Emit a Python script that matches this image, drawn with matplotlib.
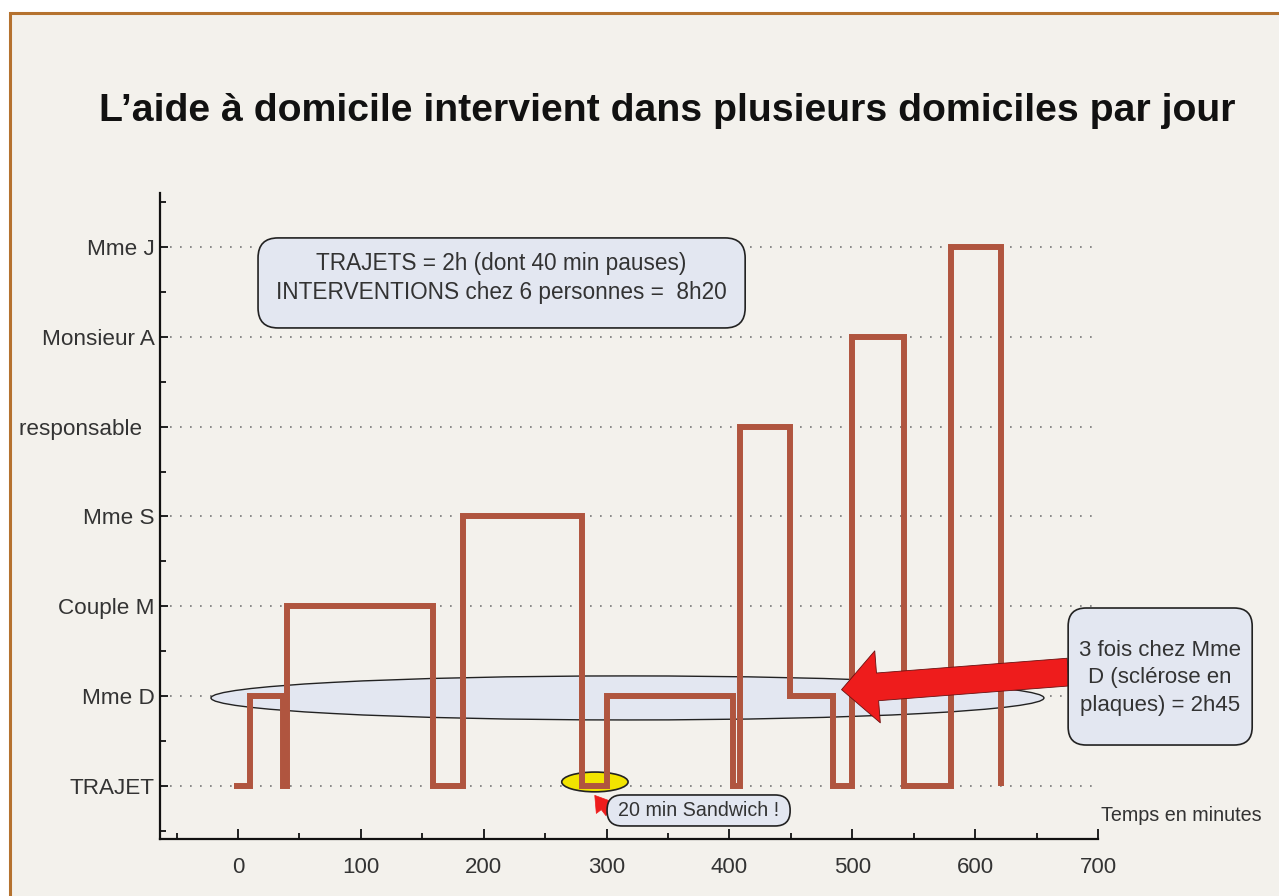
import matplotlib
matplotlib.use('Agg')
import matplotlib.pyplot as plt
from matplotlib.patches import Ellipse, Rectangle, FancyArrowPatch, FancyBboxPatch

plt.rcParams['font.family'] = ['Liberation Sans', 'DejaVu Sans']

################### data #######################
CATEGORIES = ['TRAJET', 'Mme D', 'Couple M', 'Mme S', 'responsable  ', 'Monsieur A', 'Mme J']

# start time of each segment (minutes) and place visited (index in CATEGORIES)
TIMES = [-3, 10, 37, 40, 159, 183, 280, 300, 403, 409, 449, 484, 500, 542, 580, 621]
LEVELS = [0, 1, 0, 2, 0, 3, 0, 1, 0, 4, 1, 0, 5, 0, 6, 0]

X_TICKS = [0, 100, 200, 300, 400, 500, 600, 700]

TITLE = 'L\u2019aide à domicile intervient dans plusieurs domiciles par jour'
BOX_TOP = 'TRAJETS = 2h (dont 40 min pauses)\nINTERVENTIONS chez 6 personnes =  8h20'
BOX_RIGHT = '3 fois chez Mme\nD (sclérose en\nplaques) = 2h45'
BOX_SANDWICH = '20 min Sandwich !'
X_LABEL = 'Temps en minutes'
################################################

BG = '#f3f1ec'
LINE_COL = '#b0553f'
BOX_COL = '#e3e7f1'
TXT = '#333333'

XLIM = (-63.5, 700)
YLIM = (-0.59, 6.6)

fig = plt.figure(figsize=(12.79, 8.96), dpi=100, facecolor='white')

# beige panel with brown frame
fig.patches.append(Rectangle((10 / 1279, -0.1), 1.2, 1.1 - 13 / 896,
                             transform=fig.transFigure, facecolor=BG,
                             edgecolor='#b5722f', linewidth=2.2, zorder=-10))

ax_px = (160, 193, 1098, 839)  # left, top, right, bottom in pixels
ax = fig.add_axes([ax_px[0] / 1279, 1 - ax_px[3] / 896,
                   (ax_px[2] - ax_px[0]) / 1279, (ax_px[3] - ax_px[1]) / 896])
ax.set_facecolor('none')

ax.plot(TIMES, LEVELS, drawstyle='steps-post', color=LINE_COL, lw=4.3,
        solid_joinstyle='miter', solid_capstyle='butt', zorder=4)

ax.set_xlim(*XLIM)
ax.set_ylim(*YLIM)

ax.set_xticks(X_TICKS)
ax.set_xticks([-50, 50, 150, 250, 350, 450, 550, 650], minor=True)
ax.set_yticks(range(len(CATEGORIES)))
ax.set_yticklabels(CATEGORIES)
ax.set_yticks([-0.5, 0.5, 1.5, 2.5, 3.5, 4.5, 5.5, 6.5], minor=True)

for s in ['top', 'right']:
    ax.spines[s].set_visible(False)
for s in ['left', 'bottom']:
    ax.spines[s].set_linewidth(1.6)
    ax.spines[s].set_color('#111111')

ax.tick_params(axis='both', which='both', direction='in', colors='#111111', width=1.3)
ax.tick_params(axis='x', which='major', length=7, pad=13, labelsize=16, labelcolor=TXT)
ax.tick_params(axis='x', which='minor', length=4)
ax.tick_params(axis='y', which='major', length=6, pad=4, labelsize=16.2, labelcolor=TXT)
ax.tick_params(axis='y', which='minor', length=4)

ax.yaxis.grid(True, which='major', linestyle=(0, (1, 5)), color='#777777', lw=1.2)
ax.set_axisbelow(True)

fig.text(0.5215, 0.876, TITLE, ha='center', va='center', fontsize=28.3,
         fontweight='bold', color='#111111')

# data units -> pixel ratio, for round corners of the boxes
px_x = (ax_px[2] - ax_px[0]) / (XLIM[1] - XLIM[0])
px_y = (ax_px[3] - ax_px[1]) / (YLIM[1] - YLIM[0])
aspect = px_x / px_y


def rounded_box(x0, x1, y0, y1, radius_px):
    ax.add_patch(FancyBboxPatch((x0, y0), x1 - x0, y1 - y0,
                                boxstyle=f'round,pad=0,rounding_size={radius_px / px_x}',
                                mutation_aspect=aspect, facecolor=BOX_COL,
                                edgecolor='#222222', lw=1.2, zorder=6, clip_on=False))


# Mme D highlight ellipse
ax.add_patch(Ellipse((317, 0.98), 678, 0.49, facecolor=BOX_COL, edgecolor='#222222',
                     lw=1.0, zorder=2))
# sandwich ellipse
ax.add_patch(Ellipse((290.5, 0.045), 54, 0.22, facecolor='#f2e400', edgecolor='#222222',
                     lw=1.2, zorder=3))

# big red arrow towards Mme D
ax.add_patch(FancyArrowPatch((678, 1.27), (489, 1.07),
                             arrowstyle='simple,head_length=2.6,head_width=5.2,tail_width=2.0',
                             mutation_scale=10, facecolor='#ee1c1c', edgecolor='#6a1010',
                             lw=0.6, zorder=5, clip_on=False))
# small red arrow to sandwich
ax.add_patch(FancyArrowPatch((303, -0.33), (289, -0.08),
                             arrowstyle='simple,head_length=1.1,head_width=1.4,tail_width=0.5',
                             mutation_scale=10, facecolor='#ee1c1c', edgecolor='#ee1c1c',
                             lw=0.5, zorder=5))

rounded_box(16.3, 412.8, 5.098, 6.10, 20)
ax.text(214, 5.655, BOX_TOP, ha='center', va='center', fontsize=16.3, color=TXT,
        linespacing=1.3, zorder=7)

rounded_box(675.7, 825.5, 0.456, 1.981, 18)
ax.text(750.6, 1.205, BOX_RIGHT, ha='center', va='center', fontsize=16, color=TXT,
        linespacing=1.42, zorder=7, clip_on=False)

rounded_box(300.4, 449.4, -0.445, -0.100, 15)
ax.text(374.5, -0.278, BOX_SANDWICH, ha='center', va='center', fontsize=14.1, color=TXT,
        zorder=7)

ax.text(702.5, -0.334, X_LABEL, ha='left', va='center', fontsize=14.2, color=TXT,
        clip_on=False)

fig.savefig('out.png', dpi=100, facecolor='white')
